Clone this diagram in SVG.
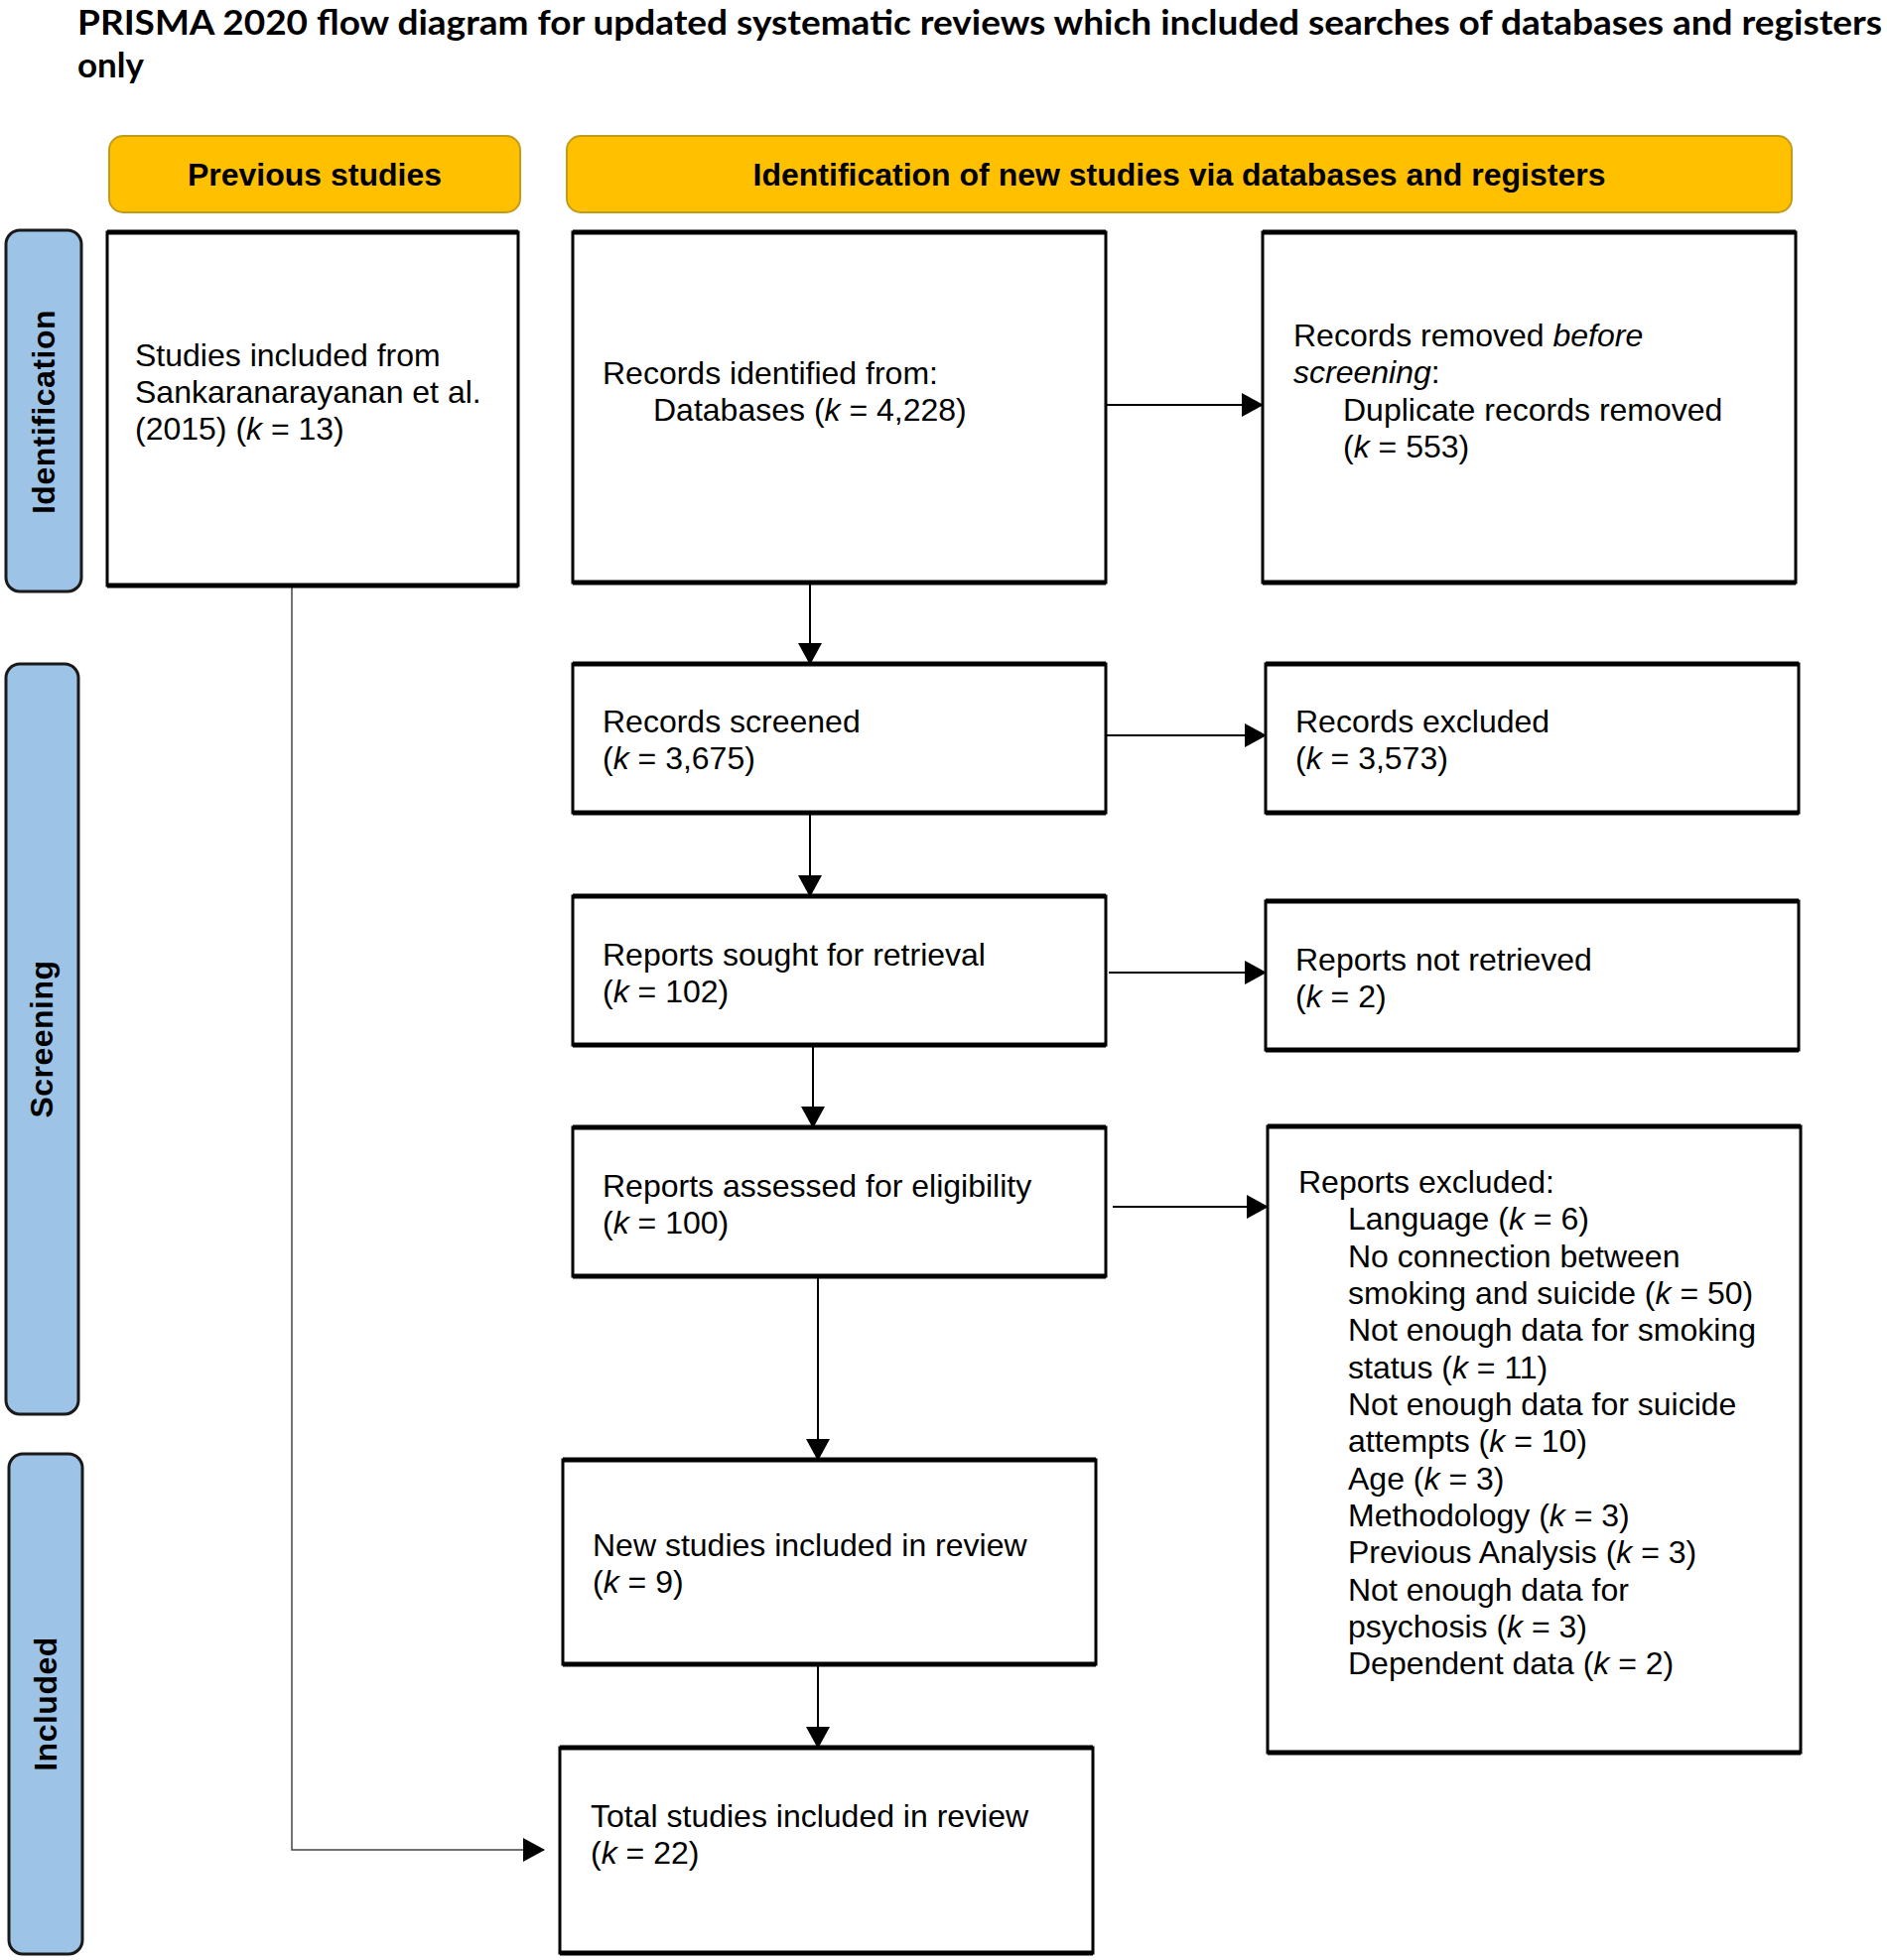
<svg xmlns="http://www.w3.org/2000/svg" width="1901" height="1975" viewBox="0 0 1901 1975">
<style>
.title{font-family:Lato,"Liberation Sans",sans-serif;font-weight:bold;font-size:35px;fill:#000}
.hdr{fill:#FFC000;stroke:#C39B1A;stroke-width:2}
.hdrt{font-family:"Liberation Sans",Arial,sans-serif;font-weight:bold;font-size:32px;fill:#000;text-anchor:middle}
.side{fill:#9DC3E6;stroke:#1a1a1a;stroke-width:3}
.sidet{font-family:"Liberation Sans",Arial,sans-serif;font-weight:bold;font-size:32px;fill:#000;text-anchor:middle;letter-spacing:0.5px}
.box{fill:#fff;stroke:#000;stroke-width:3}
.edge{stroke:#000;stroke-width:5;fill:none}
.t{font-family:"Liberation Sans",Arial,sans-serif;font-size:32px;fill:#000}
.conn{stroke:#000;stroke-width:2;fill:none}
.thin{stroke:#444;stroke-width:1.5;fill:none}
</style>
<defs>
<marker id="ah" markerUnits="userSpaceOnUse" markerWidth="22" markerHeight="24" viewBox="0 0 22 24" refX="21" refY="12" orient="auto">
<path d="M0,0 L22,12 L0,24 Z" fill="#000"/>
</marker>
</defs>
<rect width="1901" height="1975" fill="#fff"/>
<g id="title">
<text class="title" x="78" y="35" textLength="1818" lengthAdjust="spacingAndGlyphs">PRISMA 2020 flow diagram for updated systematic reviews which included searches of databases and registers</text>
<text class="title" x="78" y="78">only</text>
</g>
<g id="header-previous">
<rect class="hdr" x="110" y="137" width="414" height="77" rx="14"/>
<text class="hdrt" x="317" y="187">Previous studies</text>
</g>
<g id="header-new">
<rect class="hdr" x="571" y="137" width="1234" height="77" rx="14"/>
<text class="hdrt" x="1188" y="187">Identification of new studies via databases and registers</text>
</g>
<g id="side-identification">
<rect class="side" x="6" y="232" width="76" height="364" rx="14"/>
<text class="sidet" transform="translate(44,415) rotate(-90)" x="0" y="11">Identification</text>
</g>
<g id="side-screening">
<rect class="side" x="6" y="669" width="73" height="756" rx="14"/>
<text class="sidet" transform="translate(42,1047) rotate(-90)" x="0" y="11">Screening</text>
</g>
<g id="side-included">
<rect class="side" x="9" y="1465" width="74" height="504" rx="14"/>
<text class="sidet" transform="translate(46,1717) rotate(-90)" x="0" y="11">Included</text>
</g>
<g id="connectors">
<path class="thin" d="M294,590 V1864 H548" marker-end="url(#ah)"/>
<path class="conn" d="M1114,408 H1272" marker-end="url(#ah)"/>
<path class="conn" d="M816,587 V669" marker-end="url(#ah)"/>
<path class="conn" d="M1114,741 H1275" marker-end="url(#ah)"/>
<path class="conn" d="M816,819 V903" marker-end="url(#ah)"/>
<path class="conn" d="M1117,980 H1275" marker-end="url(#ah)"/>
<path class="conn" d="M819,1053 V1136" marker-end="url(#ah)"/>
<path class="conn" d="M1121,1216 H1277" marker-end="url(#ah)"/>
<path class="conn" d="M824,1286 V1471" marker-end="url(#ah)"/>
<path class="conn" d="M824,1677 V1761" marker-end="url(#ah)"/>
</g>
<g id="node-previous">
<rect class="box" x="108" y="234" width="414" height="356"/>
<path class="edge" d="M108,234 H522 M108,590 H522"/>
<text class="t" x="136" y="369">Studies included from</text>
<text class="t" x="136" y="406">Sankaranarayanan et al.</text>
<text class="t" x="136" y="443">(2015) (<tspan font-style="italic">k</tspan> = 13)</text>
</g>
<g id="node-identified">
<rect class="box" x="577" y="234" width="537" height="353"/>
<path class="edge" d="M577,234 H1114 M577,587 H1114"/>
<text class="t" x="607" y="387">Records identified from:</text>
<text class="t" x="658" y="424">Databases (<tspan font-style="italic">k</tspan> = 4,228)</text>
</g>
<g id="node-removed">
<rect class="box" x="1272" y="234" width="537" height="353"/>
<path class="edge" d="M1272,234 H1809 M1272,587 H1809"/>
<text class="t" x="1303" y="349">Records removed <tspan font-style="italic">before</tspan></text>
<text class="t" x="1303" y="386"><tspan font-style="italic">screening</tspan>:</text>
<text class="t" x="1353" y="424">Duplicate records removed</text>
<text class="t" x="1353" y="461">(<tspan font-style="italic">k</tspan> = 553)</text>
</g>
<g id="node-screened">
<rect class="box" x="577" y="669" width="537" height="150"/>
<path class="edge" d="M577,669 H1114 M577,819 H1114"/>
<text class="t" x="607" y="738">Records screened</text>
<text class="t" x="607" y="775">(<tspan font-style="italic">k</tspan> = 3,675)</text>
</g>
<g id="node-excluded">
<rect class="box" x="1275" y="669" width="537" height="150"/>
<path class="edge" d="M1275,669 H1812 M1275,819 H1812"/>
<text class="t" x="1305" y="738">Records excluded</text>
<text class="t" x="1305" y="775">(<tspan font-style="italic">k</tspan> = 3,573)</text>
</g>
<g id="node-sought">
<rect class="box" x="577" y="903" width="537" height="150"/>
<path class="edge" d="M577,903 H1114 M577,1053 H1114"/>
<text class="t" x="607" y="973">Reports sought for retrieval</text>
<text class="t" x="607" y="1010">(<tspan font-style="italic">k</tspan> = 102)</text>
</g>
<g id="node-not-retrieved">
<rect class="box" x="1275" y="908" width="537" height="150"/>
<path class="edge" d="M1275,908 H1812 M1275,1058 H1812"/>
<text class="t" x="1305" y="978">Reports not retrieved</text>
<text class="t" x="1305" y="1015">(<tspan font-style="italic">k</tspan> = 2)</text>
</g>
<g id="node-assessed">
<rect class="box" x="577" y="1136" width="537" height="150"/>
<path class="edge" d="M577,1136 H1114 M577,1286 H1114"/>
<text class="t" x="607" y="1206">Reports assessed for eligibility</text>
<text class="t" x="607" y="1243">(<tspan font-style="italic">k</tspan> = 100)</text>
</g>
<g id="node-reports-excluded">
<rect class="box" x="1277" y="1135" width="537" height="631"/>
<path class="edge" d="M1277,1135 H1814 M1277,1766 H1814"/>
<text class="t" x="1308" y="1202">Reports excluded:</text>
<text class="t" x="1358" y="1239">Language (<tspan font-style="italic">k</tspan> = 6)</text>
<text class="t" x="1358" y="1277">No connection between</text>
<text class="t" x="1358" y="1314">smoking and suicide (<tspan font-style="italic">k</tspan> = 50)</text>
<text class="t" x="1358" y="1351">Not enough data for smoking</text>
<text class="t" x="1358" y="1389">status (<tspan font-style="italic">k</tspan> = 11)</text>
<text class="t" x="1358" y="1426">Not enough data for suicide</text>
<text class="t" x="1358" y="1463">attempts (<tspan font-style="italic">k</tspan> = 10)</text>
<text class="t" x="1358" y="1501">Age (<tspan font-style="italic">k</tspan> = 3)</text>
<text class="t" x="1358" y="1538">Methodology (<tspan font-style="italic">k</tspan> = 3)</text>
<text class="t" x="1358" y="1575">Previous Analysis (<tspan font-style="italic">k</tspan> = 3)</text>
<text class="t" x="1358" y="1613">Not enough data for</text>
<text class="t" x="1358" y="1650">psychosis (<tspan font-style="italic">k</tspan> = 3)</text>
<text class="t" x="1358" y="1687">Dependent data (<tspan font-style="italic">k</tspan> = 2)</text>
</g>
<g id="node-new">
<rect class="box" x="567" y="1471" width="537" height="206"/>
<path class="edge" d="M567,1471 H1104 M567,1677 H1104"/>
<text class="t" x="597" y="1568">New studies included in review</text>
<text class="t" x="597" y="1605">(<tspan font-style="italic">k</tspan> = 9)</text>
</g>
<g id="node-total">
<rect class="box" x="564" y="1761" width="537" height="207"/>
<path class="edge" d="M564,1761 H1101 M564,1968 H1101"/>
<text class="t" x="595" y="1841">Total studies included in review</text>
<text class="t" x="595" y="1878">(<tspan font-style="italic">k</tspan> = 22)</text>
</g>
</svg>
